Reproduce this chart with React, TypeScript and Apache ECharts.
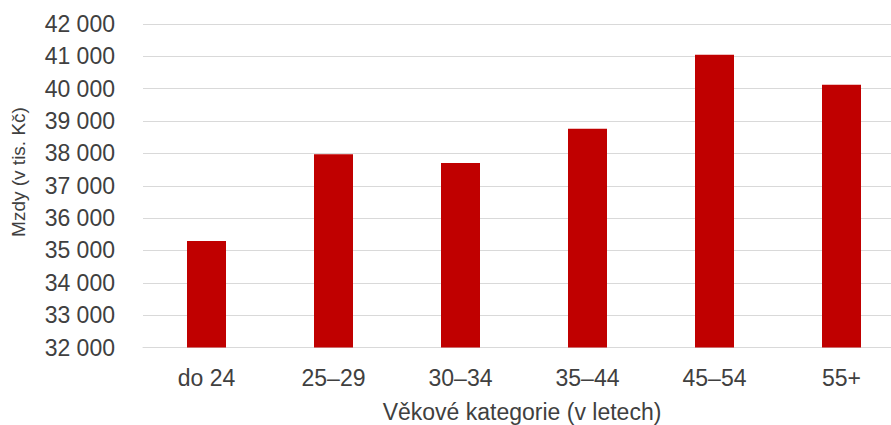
import React, { useEffect, useRef } from "react";
import * as echarts from "echarts";

const categories = ["do 24", "25–29", "30–34", "35–44", "45–54", "55+"];
const wages = [35290, 37970, 37700, 38760, 41050, 40120];
const yMin = 32000;
const yMax = 42000;
const yStep = 1000;
const yTitle = "Mzdy (v tis. Kč)";
const xTitle = "Věkové kategorie (v letech)";

const fmt = (v: number) => String(v).replace(/\B(?=(\d{3})+(?!\d))/g, " ");

export default function App() {
  const ref = useRef<HTMLDivElement>(null);
  useEffect(() => {
    document.body.style.margin = "0";
    const chart = echarts.init(ref.current!, null, { renderer: "svg" });
    const textColor = "#404040";
    const font = "Liberation Sans, Arial, sans-serif";
    chart.setOption({
      animation: false,
      backgroundColor: "#ffffff",
      grid: { left: 143, top: 24, bottom: 77.5, width: 762, containLabel: false, outerBoundsMode: "none" },
      xAxis: {
        type: "category",
        data: categories,
        axisLine: { show: true, lineStyle: { color: "#d9d9d9", width: 1 } },
        axisTick: { show: false },
        axisLabel: { color: textColor, fontSize: 23, fontFamily: font, margin: 19 },
      },
      yAxis: {
        type: "value",
        min: yMin,
        max: yMax,
        interval: yStep,
        axisLine: { show: false },
        axisTick: { show: false },
        splitLine: { show: true, lineStyle: { color: "#d9d9d9", width: 1 } },
        axisLabel: { color: textColor, fontSize: 23, fontFamily: font, margin: 28, formatter: fmt },
      },
      series: [
        {
          type: "bar",
          data: wages,
          barWidth: 39,
          itemStyle: { color: "#c00000" },
        },
      ],
      graphic: [
        {
          type: "text",
          x: 18,
          y: 172,
          rotation: Math.PI / 2,
          style: {
            text: yTitle,
            fill: textColor,
            fontSize: 19,
            fontFamily: font,
            textAlign: "center",
            textVerticalAlign: "middle",
          },
        },
        {
          type: "text",
          x: 522,
          y: 412,
          style: {
            text: xTitle,
            fill: textColor,
            fontSize: 23,
            fontFamily: font,
            textAlign: "center",
            textVerticalAlign: "middle",
          },
        },
      ],
    });
    return () => chart.dispose();
  }, []);
  return <div ref={ref} style={{ width: 891, height: 425 }} />;
}
